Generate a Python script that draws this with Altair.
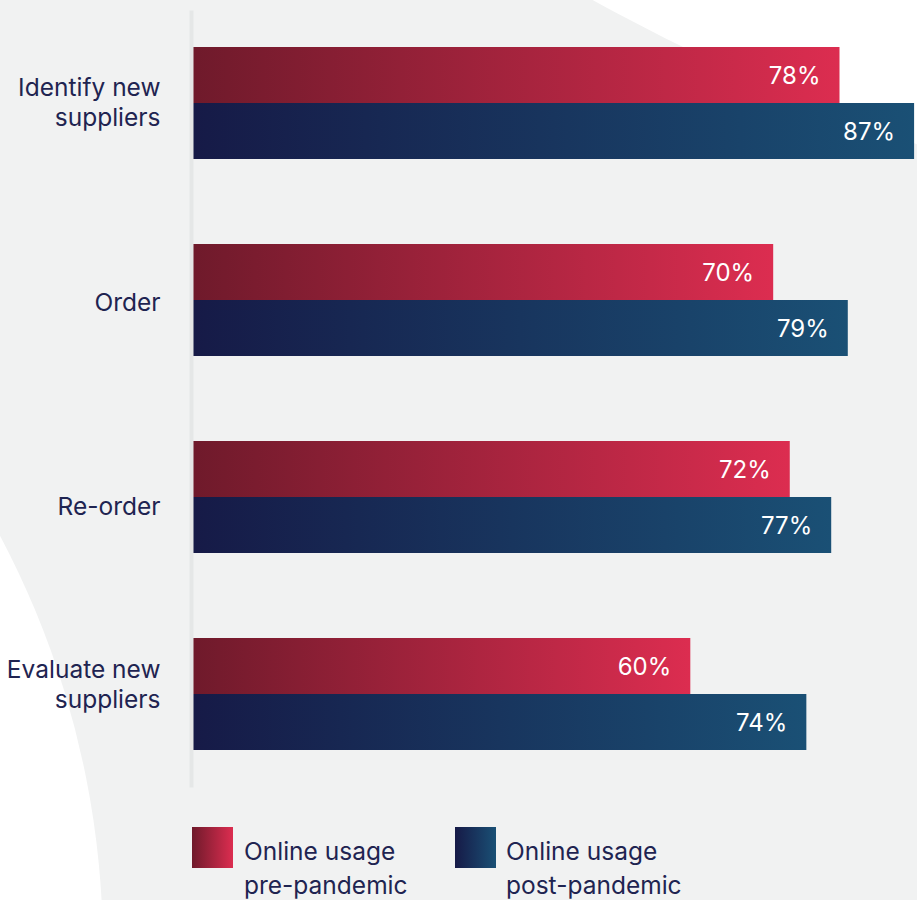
import altair as alt
import pandas as pd

categories = ["Identify new|suppliers", "Order", "Re-order", "Evaluate new|suppliers"]
series_names = ["Online usage pre-pandemic", "Online usage post-pandemic"]
pre_values = [78, 70, 72, 60]
post_values = [87, 79, 77, 74]
legend_pre = ["Online usage", "pre-pandemic"]
legend_post = ["Online usage", "post-pandemic"]

rows = []
for c, v in zip(categories, pre_values):
    rows.append({"category": c, "series": series_names[0], "value": v})
for c, v in zip(categories, post_values):
    rows.append({"category": c, "series": series_names[1], "value": v})
df = pd.DataFrame(rows)

FONT = "Inter"
TEXT_COLOR = "#1f2451"
BG = "#f1f2f2"

grad_pre = {"gradient": "linear", "x1": 0, "y1": 0, "x2": 1, "y2": 0,
            "stops": [{"offset": 0, "color": "#6f1a2b"}, {"offset": 1, "color": "#dc2d50"}]}
grad_post = {"gradient": "linear", "x1": 0, "y1": 0, "x2": 1, "y2": 0,
             "stops": [{"offset": 0, "color": "#161a47"}, {"offset": 1, "color": "#1a5075"}]}

label_offset = {
    "condition": [
        {"test": "datum.value == 'Identify new|suppliers'", "value": -14},
        {"test": "datum.value == 'Re-order'", "value": 11},
        {"test": "datum.value == 'Evaluate new|suppliers'", "value": -23},
    ],
    "value": 4,
}

x_enc = alt.X("value:Q", scale=alt.Scale(domain=[0, 87.35], nice=False, zero=True), axis=None)
y_enc = alt.Y("category:N", sort=categories,
              scale=alt.Scale(range=[10, 787], paddingInner=0.43147, paddingOuter=0.18782),
              axis=alt.Axis(title=None, ticks=False, tickSize=0, domain=True, domainColor="#e5e7e7",
                            domainWidth=4, offset=2, labelPadding=31, labelFont=FONT,
                            labelFontSize=24.5, labelColor=TEXT_COLOR, labelAlign="right",
                            labelBaseline="middle", labelLineHeight=30, labelLimit=300,
                            labelOffset=label_offset,
                            labelExpr="split(datum.label, '|')", grid=False, zindex=1))
yoff_enc = alt.YOffset("series:N", sort=series_names,
                       scale=alt.Scale(domain=series_names, paddingInner=0, paddingOuter=0))

base = alt.Chart(df)

# decorative background shapes (white areas outside the grey panel)
deco_data = alt.Data(values=[{"k": 1}])
deco_bl = alt.Chart(deco_data).mark_point(shape="circle", filled=True, color="white",
                                          opacity=1, size=3132900, strokeWidth=0).encode(
    x=alt.value(-975), y=alt.value(950))
deco_tr = alt.Chart(deco_data).mark_point(shape="circle", filled=True, color="white",
                                          opacity=1, size=16064064, strokeWidth=0).encode(
    x=alt.value(1372.5), y=alt.value(-1752))

bars_pre = base.transform_filter(alt.datum.series == series_names[0]).mark_bar(
    color=grad_pre, cornerRadius=0).encode(x=x_enc, y=y_enc, yOffset=yoff_enc)
bars_post = base.transform_filter(alt.datum.series == series_names[1]).mark_bar(
    color=grad_post, cornerRadius=0).encode(x=x_enc, y=y_enc, yOffset=yoff_enc)

labels = base.transform_calculate(label="format(datum.value, 'd') + '%'").mark_text(
    align="right", baseline="middle", dx=-19, dy=2, font=FONT, fontSize=24, color="white"
).encode(x=x_enc, y=y_enc, yOffset=yoff_enc, text="label:N")

leg_data = alt.Data(values=[{"k": 1}])
leg_rect_pre = alt.Chart(leg_data).mark_rect(color=grad_pre).encode(
    x=alt.value(-1), x2=alt.value(40), y=alt.value(827), y2=alt.value(868))
leg_rect_post = alt.Chart(leg_data).mark_rect(color=grad_post).encode(
    x=alt.value(262), x2=alt.value(303), y=alt.value(827), y2=alt.value(868))
leg_text_pre = alt.Chart(leg_data).mark_text(
    text=legend_pre, align="left", baseline="alphabetic", font=FONT, fontSize=24.5,
    lineHeight=34, color=TEXT_COLOR).encode(x=alt.value(51), y=alt.value(860))
leg_text_post = alt.Chart(leg_data).mark_text(
    text=legend_post, align="left", baseline="alphabetic", font=FONT, fontSize=24.5,
    lineHeight=34, color=TEXT_COLOR).encode(x=alt.value(313), y=alt.value(860))

chart = alt.layer(
    deco_bl, deco_tr, bars_pre, bars_post, labels,
    leg_rect_pre, leg_rect_post, leg_text_pre, leg_text_post
).properties(
    width=724, height=900,
    autosize=alt.AutoSizeParams(type="none"),
    padding={"left": 193, "top": 0, "right": 0, "bottom": 0},
    background=BG,
).configure(font=FONT, view=alt.ViewConfig(stroke=None))

chart.save("out.html", embed_options={"renderer": "svg", "actions": False})
